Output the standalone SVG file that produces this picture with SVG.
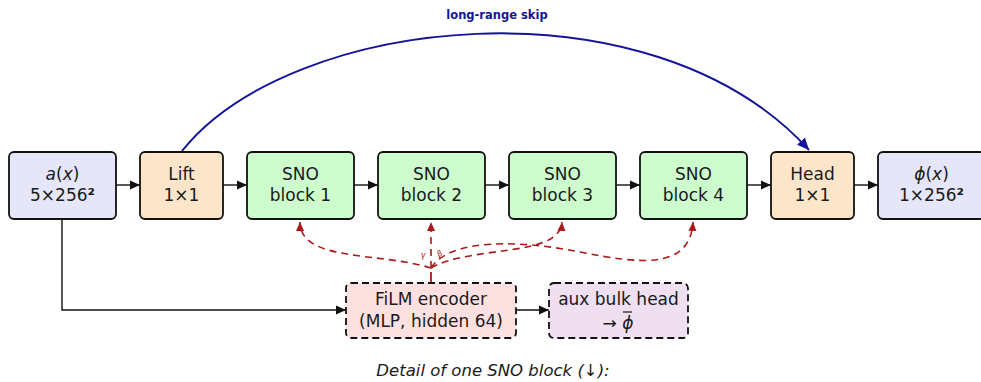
<svg xmlns="http://www.w3.org/2000/svg" width="981" height="382" viewBox="0 0 981 382">
<defs>
<style>
text{font-family:"DejaVu Sans","Liberation Sans",sans-serif;fill:#1a1a1a;text-anchor:middle}
.t{font-size:17px}
.box{stroke:#111;stroke-width:1.8}
.io{fill:#e6e6fb}
.lh{fill:#fde5ca}
.sno{fill:#cdfccd}
.dash{stroke-dasharray:7,4}
.conn{stroke:#111;stroke-width:1.4;fill:none}
.film{stroke:#aa1a1a;stroke-width:1.6;fill:none;stroke-dasharray:7,5}
.i{font-style:italic}
</style>
<marker id="ab" viewBox="0 0 10 10" refX="10" refY="5" markerWidth="10" markerHeight="10" markerUnits="userSpaceOnUse" orient="auto"><path d="M0,0.5 L10,5 L0,9.5 Z" fill="#111"/></marker>
<marker id="ar" viewBox="0 0 10 10" refX="10" refY="5" markerWidth="9" markerHeight="9" markerUnits="userSpaceOnUse" orient="auto"><path d="M0,0.5 L10,5 L0,9.5 Z" fill="#aa1a1a"/></marker>
<marker id="an" viewBox="0 0 10 10" refX="10" refY="5" markerWidth="12" markerHeight="12" markerUnits="userSpaceOnUse" orient="auto"><path d="M0,0.5 L10,5 L0,9.5 Z" fill="#14149a"/></marker>
</defs>
<rect width="981" height="382" fill="#fff"/>

<g id="connectors">
<line class="conn" x1="116" y1="185" x2="140" y2="185" marker-end="url(#ab)"/>
<line class="conn" x1="223" y1="185" x2="247" y2="185" marker-end="url(#ab)"/>
<line class="conn" x1="354" y1="185" x2="378" y2="185" marker-end="url(#ab)"/>
<line class="conn" x1="485" y1="185" x2="509" y2="185" marker-end="url(#ab)"/>
<line class="conn" x1="616" y1="185" x2="640" y2="185" marker-end="url(#ab)"/>
<line class="conn" x1="747" y1="185" x2="771" y2="185" marker-end="url(#ab)"/>
<line class="conn" x1="854" y1="185" x2="878" y2="185" marker-end="url(#ab)"/>
<path class="conn" d="M62,219 L62,310 L346,310" marker-end="url(#ab)"/>
<line class="conn" x1="516" y1="310" x2="549" y2="310" marker-end="url(#ab)"/>
<path d="M182,151 C290,15 650,-25 809,150" fill="none" stroke="#14149a" stroke-width="2" marker-end="url(#an)"/>
<text x="497" y="19" style="font-size:11.5px;font-weight:bold;fill:#14149a">long-range skip</text>
<line x1="431" y1="283" x2="431" y2="272" stroke="#aa1a1a" stroke-width="1.8"/>
<path class="film" d="M431,268 C380,252 300,262 300,222" marker-end="url(#ar)"/>
<path class="film" d="M431,268 L431,222" marker-end="url(#ar)"/>
<path class="film" d="M431,268 C470,245 560,258 562,222" marker-end="url(#ar)"/>
<path class="film" d="M431,268 C450,238 520,240 580,252 S690,270 693,222" marker-end="url(#ar)"/>
<text x="423" y="258" style="font-size:8px;fill:#aa1a1a;font-style:italic">γ</text>
<text x="441" y="256" style="font-size:8px;fill:#aa1a1a;font-style:italic" transform="rotate(-30 441 256)">β</text>
</g>

<g id="n-ax"><rect class="box io" x="9" y="152" width="107" height="67" rx="5"/><text class="t" x="62.5" y="180"><tspan class="i">a</tspan>(<tspan class="i">x</tspan>)</text><text class="t" x="62.5" y="201">5×256<tspan style="font-weight:bold">²</tspan></text></g>
<g id="n-lift"><rect class="box lh" x="140" y="152" width="83" height="67" rx="5"/><text class="t" x="181.5" y="180">Lift</text><text class="t" x="181.5" y="201">1×1</text></g>
<g id="n-sno1"><rect class="box sno" x="247" y="152" width="107" height="67" rx="5"/><text class="t" x="300.5" y="180">SNO</text><text class="t" x="300.5" y="201">block 1</text></g>
<g id="n-sno2"><rect class="box sno" x="378" y="152" width="107" height="67" rx="5"/><text class="t" x="431.5" y="180">SNO</text><text class="t" x="431.5" y="201">block 2</text></g>
<g id="n-sno3"><rect class="box sno" x="509" y="152" width="107" height="67" rx="5"/><text class="t" x="562.5" y="180">SNO</text><text class="t" x="562.5" y="201">block 3</text></g>
<g id="n-sno4"><rect class="box sno" x="640" y="152" width="107" height="67" rx="5"/><text class="t" x="693.5" y="180">SNO</text><text class="t" x="693.5" y="201">block 4</text></g>
<g id="n-head"><rect class="box lh" x="771" y="152" width="83" height="67" rx="5"/><text class="t" x="812.5" y="180">Head</text><text class="t" x="812.5" y="201">1×1</text></g>
<g id="n-phi"><rect class="box io" x="878" y="152" width="107" height="67" rx="5"/><text class="t" x="931.5" y="180"><tspan class="i">ϕ</tspan>(<tspan class="i">x</tspan>)</text><text class="t" x="931.5" y="201">1×256<tspan style="font-weight:bold">²</tspan></text></g>
<g id="n-film"><rect class="box dash" x="346" y="283" width="170" height="55" rx="5" fill="#fde1e1"/><text class="t" x="431" y="305">FiLM encoder</text><text class="t" x="431" y="327">(MLP, hidden 64)</text></g>
<g id="n-aux"><rect class="box dash" x="549" y="283" width="139" height="55" rx="5" fill="#efdff0"/><text class="t" x="618.5" y="305">aux bulk head</text><text class="t" x="618" y="329">→ <tspan class="i">ϕ</tspan></text><line x1="623" y1="312" x2="632" y2="312" stroke="#1a1a1a" stroke-width="1.2"/></g>
<text x="493" y="376" class="i" style="font-size:16.5px">Detail of one SNO block (↓):</text>
</svg>
